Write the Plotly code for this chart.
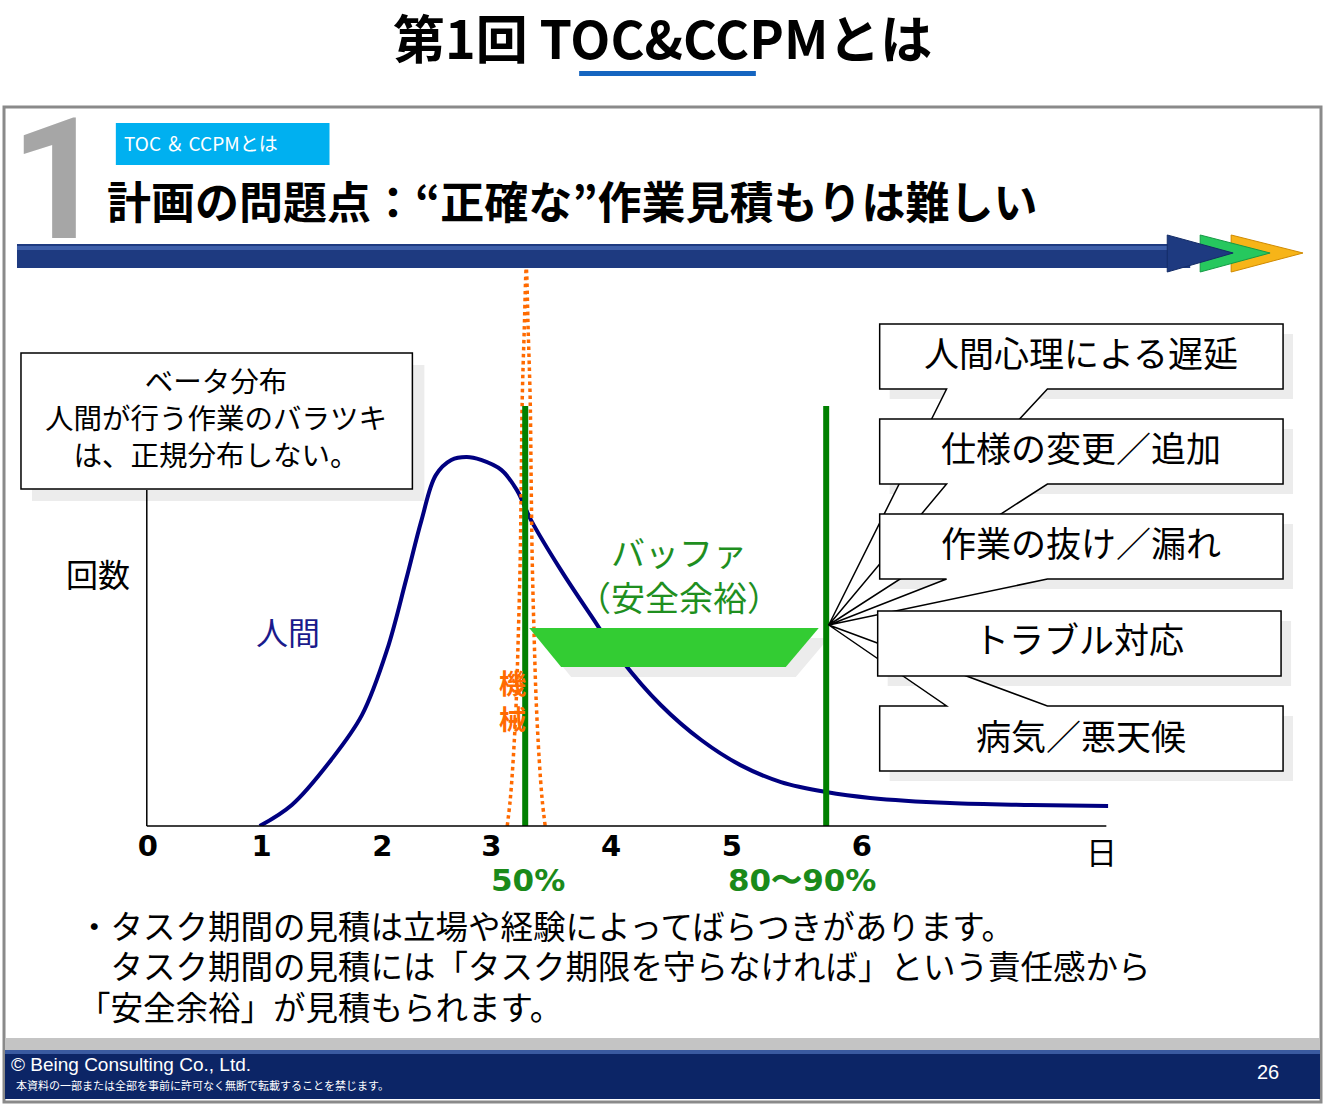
import plotly.graph_objects as go

# ---------------- data ----------------
day_tick_vals = [0, 0.956, 1.971, 2.886, 3.893, 4.908, 6.0]
day_tick_text = ["0", "1", "2", "3", "4", "5", "6"]

# human (beta-like) distribution
human_x = [0.94, 1.21, 1.54, 1.80, 2.01, 2.17, 2.30, 2.42, 2.55, 2.68, 2.80, 2.97, 3.10, 3.22,
           3.47, 3.72, 3.98, 4.31, 4.65, 4.98, 5.32, 5.70, 6.07, 6.74, 7.42, 8.07]
human_y = [0, 5.7, 17.9, 30.1, 47.7, 66.7, 82.9, 95.1, 99.2, 100, 99.2, 96.5, 91.1, 82.9,
           69.4, 57.2, 45.0, 32.8, 23.3, 16.5, 11.9, 9.2, 7.6, 6.2, 5.7, 5.4]

# machine (narrow) distribution
machine_x = [3.020, 3.045, 3.070, 3.096, 3.112, 3.129, 3.138, 3.146, 3.163, 3.180,
             3.196, 3.213, 3.221, 3.230, 3.247, 3.263, 3.289, 3.314, 3.339]
machine_y = [0, 7.0, 17.9, 34.1, 50.4, 72.1, 93.8, 115.4, 134.4, 151.2,
             134.4, 115.4, 93.8, 72.1, 50.4, 34.1, 17.9, 7.0, 0]

# estimate lines (50% and 80~90%)
estimate_x = [3.171, 5.700]
estimate_labels = ["50%", "80〜90%"]
estimate_label_x = [3.196, 5.50]
estimate_top = 113.8

cause_labels = ["人間心理による遅延", "仕様の変更／追加", "作業の抜け／漏れ", "トラブル対応", "病気／悪天候"]

W, H = 1323, 1104
JP = "Noto Sans CJK JP"
# horizontal calibration of the capture (page shows the figure in x = 8 .. 1323)
X_OFF, X_SPAN = 8, 1315


def fx(x):
    return (x - X_OFF) / X_SPAN


def fy(y):
    return 1 - y / H


def path(points):
    s = "M " + " L ".join(f"{fx(x):.5f},{fy(y):.5f}" for x, y in points) + " Z"
    return s


fig = go.Figure()

fig.add_trace(go.Scatter(x=human_x, y=human_y, mode="lines", line=dict(color="#000080", width=4, shape="spline"),
                         hoverinfo="skip", showlegend=False))
fig.add_trace(go.Scatter(x=machine_x, y=machine_y, mode="lines",
                         line=dict(color="#FF6A00", width=3.5, dash="dot", shape="spline"),
                         hoverinfo="skip", showlegend=False))
for ex in estimate_x:
    fig.add_trace(go.Scatter(x=[ex, ex], y=[0, estimate_top], mode="lines",
                             line=dict(color="#008000", width=6), hoverinfo="skip", showlegend=False))

shapes = []
# slide frame
shapes.append(dict(type="rect", xref="paper", yref="paper", x0=fx(2), x1=fx(1321), y0=fy(1102), y1=fy(107),
                   line=dict(color="#8a8a8a", width=3), fillcolor="white", layer="below"))
# blue bar arrow
shapes.append(dict(type="rect", xref="paper", yref="paper", x0=fx(15), x1=fx(1190), y0=fy(268), y1=fy(244),
                   line=dict(width=0), fillcolor="#1E3A80", layer="below"))
shapes.append(dict(type="rect", xref="paper", yref="paper", x0=fx(15), x1=fx(1190), y0=fy(250), y1=fy(246),
                   line=dict(width=0), fillcolor="#3E5FAA", layer="below"))
shapes.append(dict(type="path", xref="paper", yref="paper", path=path([(1231, 235), (1231, 272), (1303, 253)]),
                   line=dict(color="#D08A00", width=1), fillcolor="#F7B418", layer="below"))
shapes.append(dict(type="path", xref="paper", yref="paper", path=path([(1200, 235), (1200, 272), (1270, 253)]),
                   line=dict(color="#169A45", width=1), fillcolor="#26C85E", layer="below"))
shapes.append(dict(type="path", xref="paper", yref="paper", path=path([(1167, 235), (1167, 272), (1233, 253)]),
                   line=dict(color="#142C66", width=1), fillcolor="#1E3A80", layer="below"))
# cyan tag
shapes.append(dict(type="rect", xref="paper", yref="paper", x0=fx(114), x1=fx(328), y0=fy(165), y1=fy(123),
                   line=dict(width=0), fillcolor="#00B0F0", layer="below"))
# footer
shapes.append(dict(type="rect", xref="paper", yref="paper", x0=fx(3), x1=fx(1320), y0=fy(1050), y1=fy(1038),
                   line=dict(width=0), fillcolor="#c4c4c4", layer="below"))
shapes.append(dict(type="rect", xref="paper", yref="paper", x0=fx(3), x1=fx(1320), y0=fy(1099), y1=fy(1050),
                   line=dict(width=0), fillcolor="#0C2566", layer="below"))
shapes.append(dict(type="rect", xref="paper", yref="paper", x0=fx(3), x1=fx(1320), y0=fy(1054), y1=fy(1050),
                   line=dict(width=0), fillcolor="#3A5AA0", layer="below"))
# title underline
shapes.append(dict(type="rect", xref="paper", yref="paper", x0=fx(578), x1=fx(755), y0=fy(76), y1=fy(71),
                   line=dict(width=0), fillcolor="#1565C0"))
# left callout box with shadow
shapes.append(dict(type="rect", xref="paper", yref="paper", x0=fx(30), x1=fx(423), y0=fy(501), y1=fy(365),
                   line=dict(width=0), fillcolor="#ececec", layer="below"))
shapes.append(dict(type="rect", xref="paper", yref="paper", x0=fx(19), x1=fx(411), y0=fy(489), y1=fy(353),
                   line=dict(color="black", width=1.5), fillcolor="white", layer="below"))
# axes lines
shapes.append(dict(type="line", xref="paper", yref="paper", x0=fx(145), x1=fx(1106), y0=fy(826), y1=fy(826),
                   line=dict(color="black", width=1.5)))
shapes.append(dict(type="line", xref="paper", yref="paper", x0=fx(145), x1=fx(145), y0=fy(826), y1=fy(490),
                   line=dict(color="black", width=1.5)))
# buffer trapezoid
shapes.append(dict(type="path", xref="paper", yref="paper",
                   path=path([(538, 638), (828, 638), (795, 677), (570, 677)]),
                   line=dict(width=0), fillcolor="#ececec", layer="below"))
shapes.append(dict(type="path", xref="paper", yref="paper",
                   path=path([(528, 628), (818, 628), (785, 667), (560, 667)]),
                   line=dict(width=0), fillcolor="#33CC33"))

# right callouts
apex = (828, 625)
boxes = [
    (879, 324, 1283, 389, "bottom"),
    (879, 419, 1283, 484, "bottom"),
    (879, 514, 1283, 579, "bottom"),
    (877, 611, 1281, 676, None),
    (879, 706, 1283, 771, "top"),
]
for (x0, y0, x1, y1, _) in boxes:
    shapes.append(dict(type="rect", xref="paper", yref="paper", x0=fx(x0 + 10), x1=fx(x1 + 10),
                       y0=fy(y1 + 10), y1=fy(y0 + 10), line=dict(width=0), fillcolor="#ececec", layer="below"))
order = [0, 1, 2, 4, 3]
for i in order:
    x0, y0, x1, y1, tail = boxes[i]
    if tail == "bottom":
        pts = [(x0, y0), (x1, y0), (x1, y1), (1047, y1), apex, (946, y1), (x0, y1)]
    elif tail == "top":
        pts = [(x0, y0), (946, y0), apex, (1047, y0), (x1, y0), (x1, y1), (x0, y1)]
    else:
        pts = [(x0, y0), (x1, y0), (x1, y1), (x0, y1)]
    shapes.append(dict(type="path", xref="paper", yref="paper", path=path(pts),
                       line=dict(color="black", width=1.5), fillcolor="white"))

ann = []


def A(text, x, y, size, color="black", bold=False, xanchor="center", family=JP, xref="paper", align="center"):
    ann.append(dict(text=text, x=(fx(x) if xref == "paper" else x), y=fy(y), xref=xref, yref="paper",
                    showarrow=False, xanchor=xanchor, yanchor="middle", align=align,
                    font=dict(family=family, size=size, color=color, weight=700 if bold else 400)))


def big(s, px):
    return f'<span style="font-size:{px}px">{s}</span>'


A("第1回 TOC&CCPMとは", 661, 36, 52, bold=True)
A("1", 56, 180, 168, color="#a6a6a6", bold=True, family="Roboto")
A("TOC ＆ CCPMとは", 120, 143, 19, color="white", xanchor="left")
A("計画の問題点：“正確な”作業見積もりは難しい", 103, 200, 44, bold=True, xanchor="left")

A("<br>".join(big(s, 28.5) for s in ["ベータ分布", "人間が行う作業のバラツキ", "は、正規分布しない。"]),
  214, 416, 28.5)
A("回数", 96, 573, 32)
A("人間", 286, 631, 32, color="#1a1a8c")
A("<br>".join(big(s, 27) for s in ["機", "械"]), 511, 700, 28, color="#FF6A00", bold=True)
A("<br>".join(big(s, 34) for s in ["バッファ", "（安全余裕）"]), 678, 574, 34.5, color="#1f8f1f")

centers = [(1081, 351), (1081, 446), (1081, 541), (1079, 637), (1081, 734)]
for lab, (cx, cy) in zip(cause_labels, centers):
    A(lab, cx, cy, 35)

A("日", 1101, 850, 31)
for lab, lx in zip(estimate_labels, estimate_label_x):
    A(lab, lx, 880, 31, color="#1a8a1a", bold=True, family="DejaVu Sans", xref="x")

A("<br>".join(big(s, 32.5) for s in ["・タスク期間の見積は立場や経験によってばらつきがあります。",
                                     "　タスク期間の見積には「タスク期限を守らなければ」という責任感から",
                                     "「安全余裕」が見積もられます。"]),
  74, 965, 31, xanchor="left", align="left")

A("© Being Consulting Co., Ltd.", 7, 1064, 19, color="white", xanchor="left", family="Liberation Sans")
A("本資料の一部または全部を事前に許可なく無断で転載することを禁じます。", 12, 1085, 11, color="white",
  xanchor="left")
A("26", 1268, 1072, 20, color="white", family="Liberation Sans")

fig.update_layout(
    width=W, height=H, margin=dict(l=0, r=0, t=0, b=0), autosize=False,
    paper_bgcolor="white", plot_bgcolor="rgba(0,0,0,0)",
    shapes=shapes, annotations=ann, showlegend=False,
    xaxis=dict(domain=[fx(146), fx(1108)], range=[0, 8.0705], showgrid=False, zeroline=False, showline=False,
               tickmode="array", tickvals=day_tick_vals, ticktext=day_tick_text, ticks="",
               tickfont=dict(family="DejaVu Sans", size=29, color="black", weight=700), fixedrange=True),
    yaxis=dict(domain=[fy(826), fy(260)], range=[0, 153.39], showgrid=False, zeroline=False, showline=False,
               showticklabels=False, fixedrange=True),
)

fig.write_html("out.html", config={"staticPlot": True},
               post_script="document.body.style.margin='0';document.body.style.overflow='hidden';")
